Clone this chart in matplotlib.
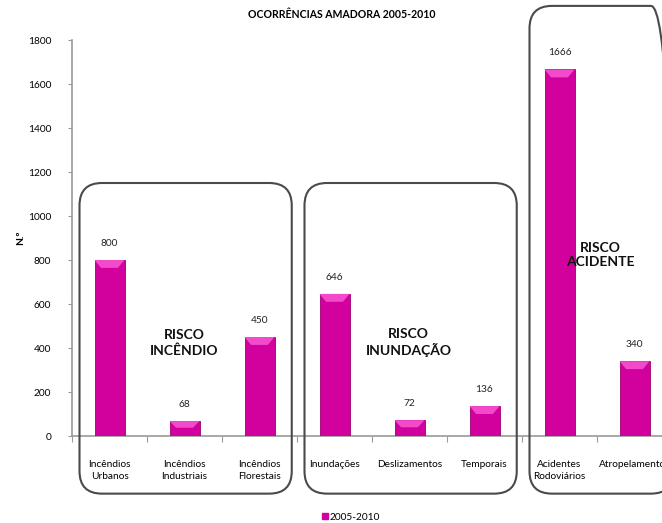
import numpy as np
import matplotlib
matplotlib.use("Agg")
import matplotlib.pyplot as plt
from matplotlib.patches import FancyBboxPatch, Polygon

plt.rcParams['font.family'] = ['Lato', 'DejaVu Sans']

categories = ['Incêndios\nUrbanos', 'Incêndios\nIndustriais', 'Incêndios\nFlorestais',
              'Inundações', 'Deslizamentos', 'Temporais',
              'Acidentes\nRodoviários', 'Atropelamentos']
values = [800, 68, 450, 646, 72, 136, 1666, 340]
series_name = '2005-2010'
groups = ['RISCO\nINCÊNDIO', 'RISCO\nINUNDAÇÃO', 'RISCO\nACIDENTE']
group_members = [(0, 2), (3, 5), (6, 7)]
yticks = [0, 200, 400, 600, 800, 1000, 1200, 1400, 1600, 1800]

bar_color = '#D2009C'
bevel_color = '#F24ACB'
edge_color = '#9A0070'
axis_color = '#9A9A9A'
box_color = '#4A4A4A'

W, H = 662, 523
fig = plt.figure(figsize=(W / 100, H / 100), dpi=100)
# axes runs past the right edge, like the cropped original
ax = fig.add_axes([72 / W, 87 / H, 600 / W, 396 / H])

x = np.arange(len(values))
bw = 0.4
ax.bar(x, values, width=bw, color=bar_color, edgecolor=edge_color,
       linewidth=0.6, zorder=3)

# light bevel on the top of every bar
ymax = 1800
bevel = 36
for xi, v in zip(x, values):
    x0, x1 = xi - bw / 2, xi + bw / 2
    d = min(bevel, v * 0.45)
    ax.add_patch(Polygon([(x0, v), (x1, v), (x1 - bw * 0.22, v - d),
                          (x0 + bw * 0.22, v - d)], closed=True,
                         facecolor=bevel_color, edgecolor='none', zorder=4))
    ax.text(xi, v + 55, str(v), ha='center', va='bottom', fontsize=7.3,
            color='#222222')

ax.set_xlim(-0.5, 7.5)
ax.set_ylim(0, ymax)
ax.set_yticks(yticks)
ax.set_yticklabels([str(t) for t in yticks], fontsize=7.3)
ax.tick_params(axis='y', length=3, width=0.8, color=axis_color, pad=12)

ax.set_xticks(x)
ax.set_xticklabels(categories, fontsize=7.3, va='top', linespacing=1.45)
ax.tick_params(axis='x', which='major', length=0, pad=17)
ax.set_xticks(np.arange(-0.5, 8, 1), minor=True)
ax.tick_params(axis='x', which='minor', length=4, width=0.8,
               color=axis_color, direction='out')

for side in ('top', 'right'):
    ax.spines[side].set_visible(False)
for side in ('left', 'bottom'):
    ax.spines[side].set_color(axis_color)
    ax.spines[side].set_linewidth(1.2)

ax.set_ylabel('N.º', fontsize=7.3, fontweight='bold')
ax.yaxis.set_label_coords(-0.078, 0.5)

# rounded boxes around the risk groups (data coords, aspect corrected)
px_x = 600 / 8.0
px_y = 396 / ymax
aspect = px_x / px_y
box_tops = [1150, 1150, 1955]
box_bottom = -262
label_pos = [(1.0, 423), (3.99, 427), (6.55, 823)]
for (a, b), top, name, (lx, ly) in zip(group_members, box_tops, groups,
                                        label_pos):
    left = a - 0.5 + 0.1
    right = b + 0.5 - 0.07
    if b == len(values) - 1:
        right = b + 0.52
    box = FancyBboxPatch((left, box_bottom), right - left, top - box_bottom,
                         boxstyle='round,pad=0,rounding_size=0.3',
                         mutation_aspect=aspect, facecolor='none',
                         edgecolor=box_color, linewidth=1.5,
                         clip_on=False, zorder=5)
    ax.add_patch(box)
    ax.text(lx, ly, name, ha='center', va='center', fontsize=10,
            fontweight='bold', color='#111111', linespacing=1.25, zorder=6)

fig.text(342 / W, 1 - 15 / H, 'OCORRÊNCIAS AMADORA 2005-2010',
         ha='center', va='center', fontsize=7.6, fontweight='bold')

leg = fig.legend([plt.Rectangle((0, 0), 1, 1, color=bar_color)],
                 [series_name], loc='center', bbox_to_anchor=(351 / W, 1 - 517 / H),
                 frameon=False, fontsize=7.3, handlelength=0.6,
                 handleheight=0.6, handletextpad=0.2)

fig.savefig('out.png', dpi=100)
